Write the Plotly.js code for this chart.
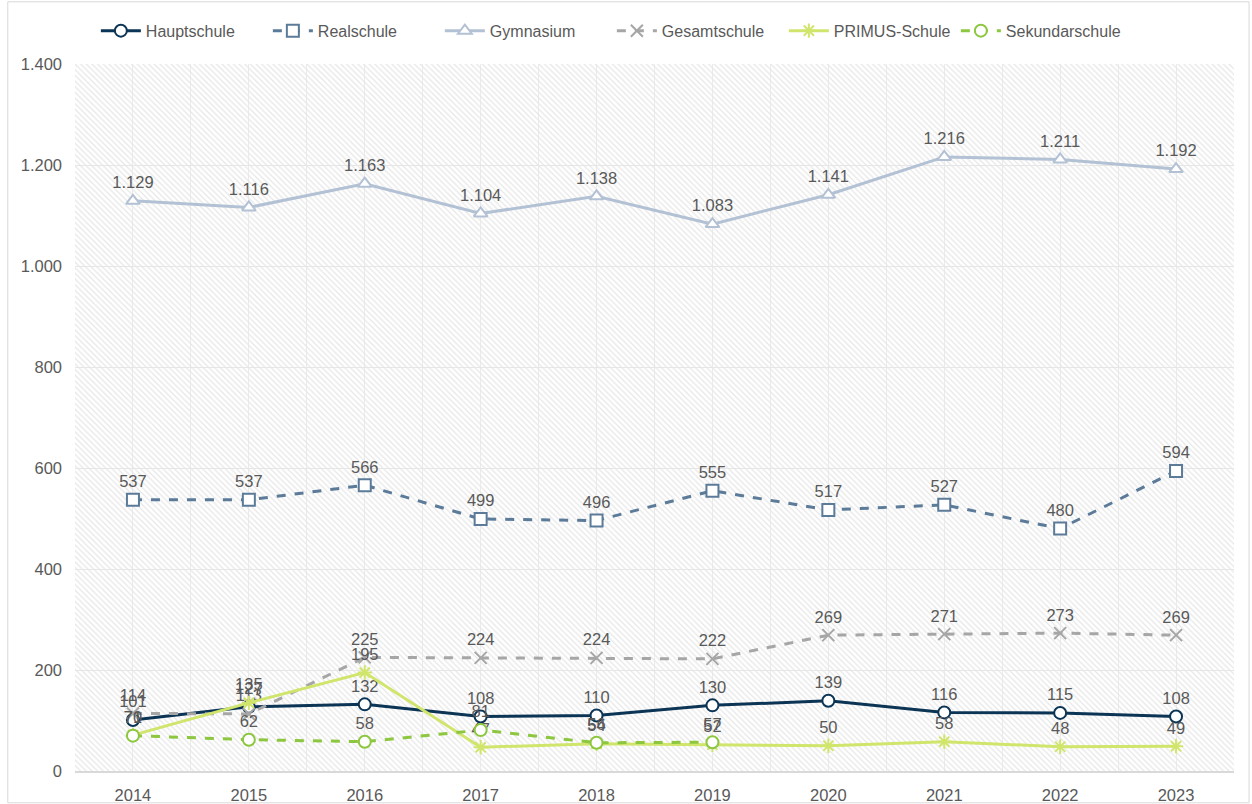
<!DOCTYPE html>
<html>
<head>
<meta charset="utf-8">
<script src="https://cdn.plot.ly/plotly-3.0.1.min.js"></script>
<style>html,body{margin:0;padding:0;background:#fff;}#chart{width:1252px;height:804px;}</style>
</head>
<body>
<div id="chart"></div>
<script>
const years = [2014, 2015, 2016, 2017, 2018, 2019, 2020, 2021, 2022, 2023];
const hauptschule = [101, 127, 132, 108, 110, 130, 139, 116, 115, 108];
const realschule = [537, 537, 566, 499, 496, 555, 517, 527, 480, 594];
const gymnasium = [1129, 1116, 1163, 1104, 1138, 1083, 1141, 1216, 1211, 1192];
const gesamtschule = [114, 113, 225, 224, 224, 222, 269, 271, 273, 269];
const primus = [71, 135, 195, 47, 54, 52, 50, 58, 48, 49];
const sekundarschule = [70, 62, 58, 81, 56, 57, null, null, null, null];
const yMax = 1400;

const labelFont = {family: 'Liberation Sans, Arial, sans-serif', size: 16.5, color: '#595959'};

function series(name, y, color, dash, symbol, filled) {
  return {
    type: 'scatter', mode: 'lines+markers+text', name: name, x: years, y: y,
    line: {color: color, width: 3, dash: dash},
    marker: {symbol: symbol, size: 12, color: filled ? '#ffffff' : color, line: {color: color, width: 2}},
    texttemplate: '%{y:,}', textposition: 'top center', textfont: labelFont,
    connectgaps: false, cliponaxis: false
  };
}

const bg = {
  type: 'bar', x: years, y: years.map(() => yMax), width: 1, showlegend: false, hoverinfo: 'skip',
  marker: {color: 'rgba(0,0,0,0)', line: {width: 0},
    pattern: {shape: '\\', fgcolor: '#e6e6e6', bgcolor: 'rgba(0,0,0,0)', size: 4, solidity: 0.3}}
};

const data = [
  bg,
  series('Hauptschule', hauptschule, '#0b3455', 'solid', 'circle', true),
  series('Realschule', realschule, '#5b7b99', 'dash', 'square', true),
  series('Gymnasium', gymnasium, '#b3c1d4', 'solid', 'triangle-up', true),
  series('Gesamtschule', gesamtschule, '#a6a6a6', 'dash', 'x-thin-open', false),
  series('PRIMUS-Schule', primus, '#d0e56c', 'solid', 'asterisk-open', false),
  series('Sekundarschule', sekundarschule, '#8dc63f', 'dash', 'circle', true)
];

const layout = {
  width: 1252, height: 804,
  margin: {l: 75, r: 18, t: 64, b: 33},
  paper_bgcolor: '#ffffff', plot_bgcolor: '#ffffff',
  separators: ',.',
  bargap: 0,
  font: {family: 'Liberation Sans, Arial, sans-serif', size: 16.5, color: '#595959'},
  showlegend: true,
  legend: {orientation: 'h', x: 0.018, xanchor: 'left', y: 1.047, yanchor: 'middle',
    font: {size: 16, color: '#595959'}, itemwidth: 40, entrywidth: 117, entrywidthmode: 'pixels',
    traceorder: 'normal'},
  xaxis: {
    range: [2013.5, 2023.5], tickvals: years, tickformat: 'd', showgrid: true, gridcolor: '#ebebeb',
    minor: {tick0: 2013.5, dtick: 1, showgrid: true, gridcolor: '#ebebeb', ticks: ''},
    zeroline: false, showline: true, linecolor: '#d9d9d9', linewidth: 2, ticks: '',
    ticklabelstandoff: 8,
    tickfont: {size: 16.5, color: '#595959'}, fixedrange: true
  },
  yaxis: {
    range: [0, yMax], dtick: 200, tickformat: ',d', showgrid: true, gridcolor: '#e6e6e6',
    zeroline: false, showline: false, ticks: '', ticklabelstandoff: 12,
    tickfont: {size: 16.5, color: '#595959'}, fixedrange: true
  },
  shapes: [{type: 'rect', xref: 'paper', yref: 'paper', x0: -0.058, x1: 1.013, y0: -0.045, y1: 1.088,
    line: {color: '#d9d9d9', width: 1}, layer: 'below'}]
};

Plotly.newPlot('chart', data, layout, {displayModeBar: false, staticPlot: true});
</script>
</body>
</html>
